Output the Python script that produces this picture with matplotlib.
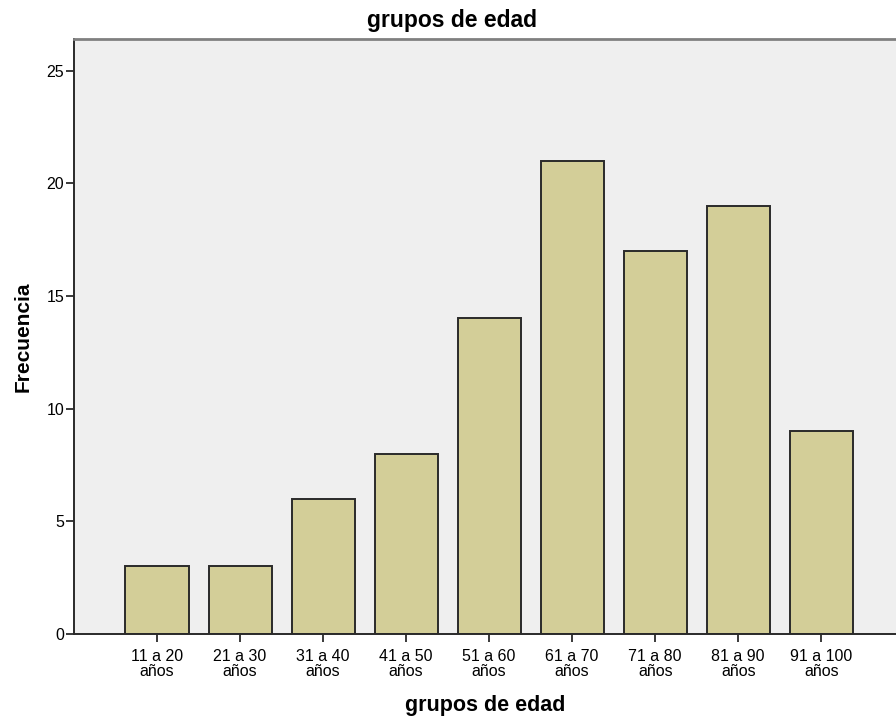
import numpy as np
import matplotlib
matplotlib.use("Agg")
import matplotlib.pyplot as plt

plt.rcParams["font.family"] = ["Liberation Sans", "DejaVu Sans"]

grupos = ["11 a 20\naños", "21 a 30\naños", "31 a 40\naños", "41 a 50\naños",
          "51 a 60\naños", "61 a 70\naños", "71 a 80\naños", "81 a 90\naños",
          "91 a 100\naños"]
frecuencia = [3, 3, 6, 8, 14, 21, 17, 19, 9]
yticks = [0, 5, 10, 15, 20, 25]

fig = plt.figure(figsize=(8.96, 7.22), dpi=100)
ax = fig.add_axes([74 / 896, 88 / 722, 1 - 74 / 896, (634 - 39) / 722])
ax.set_facecolor("#efefef")

x = np.arange(len(grupos))
ax.bar(x, frecuencia, width=0.76, color="#d3ce98", edgecolor="#2a2a2a",
       linewidth=1.4, zorder=2)

ax.set_xlim(-1.0, 8.9)
ax.set_ylim(0, 26.4)
ax.set_xticks(x)
ax.set_xticklabels(grupos, fontsize=11.5, linespacing=0.95)
ax.set_yticks(yticks)
ax.tick_params(axis="y", labelsize=11.5, length=6, width=1.3, pad=1, color="#2a2a2a")
ax.tick_params(axis="x", length=6, width=1.3, pad=5, color="#2a2a2a")

for s in ["left", "bottom"]:
    ax.spines[s].set_color("#2a2a2a")
    ax.spines[s].set_linewidth(1.4)
ax.spines["top"].set_color("#808080")
ax.spines["top"].set_linewidth(2)
ax.spines["right"].set_visible(False)

ax.set_ylabel("Frecuencia", fontsize=15, fontweight="bold", labelpad=10)
ax.set_xlabel("grupos de edad", fontsize=15.5, fontweight="bold", labelpad=12)
fig.text(452 / 896, 1 - 21 / 722, "grupos de edad", fontsize=16.5,
         fontweight="bold", ha="center", va="center")

fig.savefig("out.png", dpi=100)
